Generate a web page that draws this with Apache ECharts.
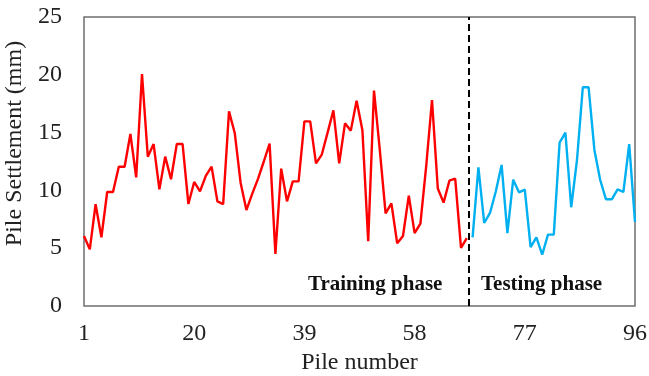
<!DOCTYPE html>
<html>
<head>
<meta charset="utf-8">
<script src="https://cdn.jsdelivr.net/npm/echarts@6/dist/echarts.min.js"></script>
<style>
  html, body { margin: 0; padding: 0; background: #fff; }
  #chart { width: 649px; height: 376px; }
</style>
</head>
<body>
<div id="chart"></div>
<script>
// pile settlement, mm — training piles 1..67, testing piles 68..96
const trainingValues = [
    6.06, 4.9, 8.8, 5.94, 9.86, 9.86, 12.05, 12.05, 14.88, 11.13,
    20.07, 12.92, 14.01, 10.09, 12.92, 10.96, 14.01, 14.01, 8.82, 10.73,
    9.92, 11.25, 12.05, 9.05, 8.82, 16.84, 14.94, 10.67, 8.3, 9.7,
    11.0, 12.5, 14.05, 4.5, 11.88, 9.05, 10.78, 10.78, 15.97, 15.97,
    12.34, 13.1, 15.0, 16.93, 12.34, 15.8, 15.17, 17.76, 15.2, 5.6,
    18.63, 13.5, 8.02, 8.88, 5.42, 6.06, 9.55, 6.3, 7.12, 12.1,
    17.82, 10.17, 8.94, 10.84, 11.01, 5.02, 5.88
];
const testingValues = [
    5.94, 12.0, 7.18, 8.05, 9.9, 12.2, 6.3, 10.93, 9.83, 10.06,
    5.1, 5.94, 4.44, 6.17, 6.17, 14.13, 14.99, 8.54, 12.63, 18.92,
    18.92, 13.5, 10.9, 9.23, 9.23, 10.09, 9.86, 14.01, 7.27
];
const xTickLabels = [1, 20, 39, 58, 77, 96];
const yTickLabels = [0, 5, 10, 15, 20, 25];
const phaseSplit = 67.3; // pile number where the dashed divider sits

const firstPile = xTickLabels[0];
const trainingData = trainingValues.map((v, i) => [i, v]);
const testingData = testingValues.map((v, i) => [trainingValues.length + i, v]);

const serif = '"Liberation Serif", "Times New Roman", serif';

const chart = echarts.init(document.getElementById('chart'));
chart.setOption({
    animation: false,
    grid: {
        left: 84, right: 14, top: 17, bottom: 70,
        outerBoundsMode: 'none',
        containLabel: false,
        show: true, borderColor: '#6e6e6e', borderWidth: 1.5
    },
    xAxis: {
        type: 'value',
        min: 0,
        max: xTickLabels[xTickLabels.length - 1] - firstPile,
        interval: xTickLabels[1] - xTickLabels[0],
        name: 'Pile number',
        nameLocation: 'middle',
        nameGap: 39,
        nameTextStyle: { fontFamily: serif, fontSize: 24, color: '#222' },
        axisLine: { show: false },
        axisTick: { show: false },
        splitLine: { show: false },
        axisLabel: {
            margin: 16,
            fontFamily: serif, fontSize: 24, color: '#222',
            formatter: v => String(v + firstPile)
        }
    },
    yAxis: {
        type: 'value',
        min: yTickLabels[0],
        max: yTickLabels[yTickLabels.length - 1],
        interval: yTickLabels[1] - yTickLabels[0],
        name: 'Pile Settlement (mm)',
        nameLocation: 'middle',
        nameGap: 47,
        nameTextStyle: { fontFamily: serif, fontSize: 24, color: '#222', padding: [0, 0, 0, 36] },
        axisLine: { show: false },
        axisTick: { show: false },
        splitLine: { show: false },
        axisLabel: { margin: 22, fontFamily: serif, fontSize: 24, color: '#222' }
    },
    series: [
        {
            name: 'Training',
            type: 'line',
            data: trainingData,
            showSymbol: false,
            lineStyle: { color: '#ff0000', width: 2.4 },
            itemStyle: { color: '#ff0000' },
            markLine: {
                silent: true,
                symbol: 'none',
                label: { show: false },
                lineStyle: { color: '#000', width: 2, type: [7, 4] },
                data: [{ xAxis: phaseSplit - firstPile }]
            }
        },
        {
            name: 'Testing',
            type: 'line',
            data: testingData,
            showSymbol: false,
            lineStyle: { color: '#00b0f0', width: 2.4 },
            itemStyle: { color: '#00b0f0' }
        }
    ],
    graphic: [
        {
            type: 'text', left: 308, top: 274,
            style: { text: 'Training phase', font: 'bold 21px ' + serif, fill: '#111' }
        },
        {
            type: 'text', left: 481, top: 274,
            style: { text: 'Testing phase', font: 'bold 21px ' + serif, fill: '#111' }
        }
    ]
});
</script>
</body>
</html>
